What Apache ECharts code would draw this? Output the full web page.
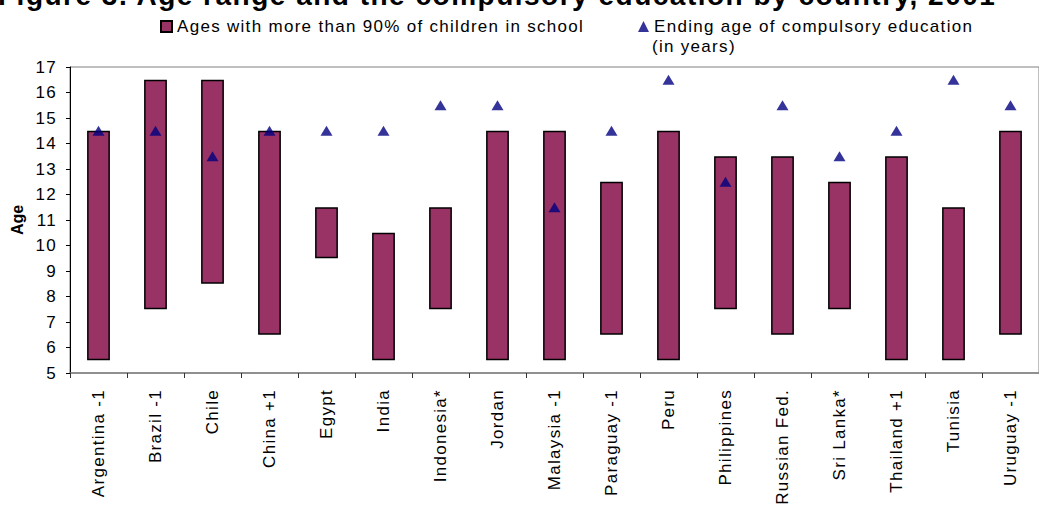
<!DOCTYPE html>
<html lang="en">
  <head>
    <meta charset="UTF-8" />
    <title>Ages of enrolment and compulsory education</title>
    <script src="https://cdn.jsdelivr.net/npm/echarts@6/dist/echarts.min.js"></script>
    <style>
      html, body { margin: 0; padding: 0; background: #fff; }
      #chart { width: 1039px; height: 514px; }
      /* 原图文字字距较宽 */
      #chart text { letter-spacing: 1.3px; }
      #chart text[style*="bold"] { letter-spacing: 0; }
      #chart text[style*="28px"] { letter-spacing: 1.5px; }
    </style>
  </head>
  <body>
    <div id="chart"></div>
    <script>
      // 国家 / 类目
      var countries = ["Argentina -1", "Brazil -1", "Chile", "China +1", "Egypt", "India",
        "Indonesia*", "Jordan", "Malaysia -1", "Paraguay -1", "Peru", "Philippines",
        "Russian Fed.", "Sri Lanka*", "Thailand +1", "Tunisia", "Uruguay -1"];
      // 90%以上在校的年龄区间：下限和上限
      var lowAge = [5.5, 7.5, 8.5, 6.5, 9.5, 5.5, 7.5, 5.5, 5.5, 6.5, 5.5, 7.5, 6.5, 7.5, 5.5, 5.5, 6.5];
      var highAge = [14.5, 16.5, 16.5, 14.5, 11.5, 10.5, 11.5, 14.5, 14.5, 12.5, 14.5, 13.5, 13.5, 12.5, 13.5, 11.5, 14.5];
      // 义务教育结束年龄
      var endingAge = [14.5, 14.5, 13.5, 14.5, 14.5, 14.5, 15.5, 15.5, 11.5, 14.5, 16.5, 12.5, 15.5, 13.5, 14.5, 16.5, 15.5];

      var rangeAge = highAge.map(function (h, i) { return h - lowAge[i]; });
      var font = "Liberation Sans";

      var myChart = echarts.init(document.getElementById("chart"), null, { renderer: "svg" });
      var option = {
        animation: false,
        textStyle: { fontFamily: font },
        graphic: [
          {
            // 标题在原图中被裁掉了大半
            type: "text",
            left: -2,
            top: -19,
            style: {
              text: "Figure 3. Age range and the compulsory education by country, 2001",
              font: "bold 28px " + font,
              fill: "#000"
            }
          },
          {
            type: "text",
            left: 652,
            top: 38,
            style: { text: "(in years)", font: "17px " + font, fill: "#000" }
          }
        ],
        legend: [
          {
            data: ["Ages with more than 90% of children in school"],
            left: 155,
            top: 13,
            icon: "rect",
            itemWidth: 11,
            itemHeight: 11,
            textStyle: { fontSize: 17, color: "#000", fontFamily: font }
          },
          {
            data: ["Ending age of compulsory education"],
            left: 633,
            top: 13,
            itemWidth: 11,
            itemHeight: 11,
            textStyle: { fontSize: 17, color: "#000", fontFamily: font }
          }
        ],
        grid: {
          left: 70,
          top: 67,
          width: 982,
          height: 306,
          show: true,
          borderColor: "#808080",
          borderWidth: 1
        },
        xAxis: {
          type: "category",
          data: countries,
          boundaryGap: true,
          axisLine: { lineStyle: { color: "#808080", width: 1.5 } },
          axisTick: { show: true, length: 5, lineStyle: { color: "#333" } },
          axisLabel: {
            rotate: 90,
            interval: 0,
            margin: 16,
            fontSize: 17,
            color: "#000",
            fontFamily: font
          }
        },
        yAxis: {
          type: "value",
          min: 5,
          max: 17,
          interval: 1,
          name: "Age",
          nameLocation: "middle",
          nameRotate: 90,
          nameGap: 45,
          nameTextStyle: { fontSize: 16, fontWeight: "bold", color: "#000", fontFamily: font },
          axisLine: { show: true, lineStyle: { color: "#000" } },
          axisTick: { show: true, length: 4, lineStyle: { color: "#000" } },
          axisLabel: { fontSize: 17, color: "#000", margin: 13, fontFamily: font },
          splitLine: { show: false }
        },
        series: [
          {
            name: "base",
            type: "bar",
            stack: "age",
            data: lowAge,
            barWidth: "40%",
            itemStyle: { color: "transparent" },
            silent: true
          },
          {
            name: "Ages with more than 90% of children in school",
            type: "bar",
            stack: "age",
            data: rangeAge,
            barWidth: "40%",
            itemStyle: { color: "#993366", borderColor: "#000", borderWidth: 1.5 }
          },
          {
            name: "Ending age of compulsory education",
            type: "scatter",
            data: endingAge,
            symbol: "triangle",
            symbolSize: [12, 10],
            itemStyle: { color: "#000080" },
            z: 5
          }
        ]
      };
      myChart.setOption(option);
    </script>
  </body>
</html>
